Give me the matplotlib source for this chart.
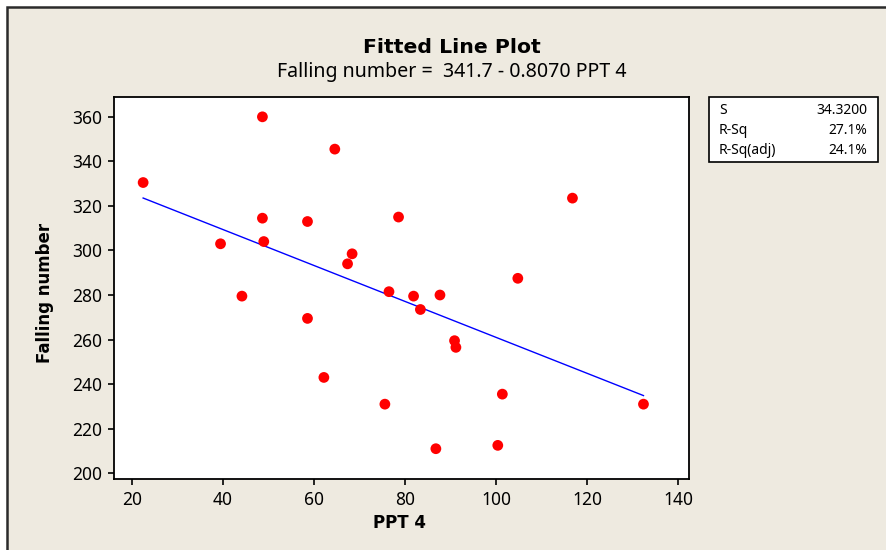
import matplotlib
matplotlib.use("Agg")
import matplotlib.pyplot as plt
from matplotlib.patches import Rectangle

plt.rcParams['font.family'] = ['Noto Sans', 'DejaVu Sans']
BOLD_FAMILY = ['DejaVu Sans']

# Observations: PPT 4 vs falling number
ppt4 = [22.5, 48.7, 64.6, 116.8, 48.7, 58.6, 78.6, 39.5, 49.0, 68.4,
        67.4, 44.2, 58.6, 62.2, 75.6, 76.5, 81.9, 83.4, 86.8, 87.7,
        90.9, 91.2, 104.8, 101.4, 100.4, 132.4]
falling_number = [330.5, 360.0, 345.5, 323.5, 314.5, 313.0, 315.0, 303.0, 304.0, 298.5,
                  294.0, 279.5, 269.5, 243.0, 231.0, 281.5, 279.5, 273.5, 211.0, 280.0,
                  259.5, 256.5, 287.5, 235.5, 212.5, 231.0]

# Regression summary
intercept = 341.7
slope = -0.8070
stat_names = ["S", "R-Sq", "R-Sq(adj)"]
stat_values = ["34.3200", "27.1%", "24.1%"]

x_ticks = [20, 40, 60, 80, 100, 120, 140]
y_ticks = [200, 220, 240, 260, 280, 300, 320, 340, 360]

W, H = 886, 550
bg = "#eeeae0"
fig = plt.figure(figsize=(W / 100, H / 100), dpi=100)
fig.patch.set_facecolor("white")

# Beige panel with dark frame
fig.patches.append(Rectangle((7 / W, -0.1), 1.2, (H - 7) / H + 0.1,
                             transform=fig.transFigure, facecolor=bg,
                             edgecolor="#2b2b2b", linewidth=1.8, zorder=-10))

ax = fig.add_axes([114 / W, (H - 479) / H, (689 - 114) / W, (479 - 97) / H])
ax.set_facecolor("white")

ax.scatter(ppt4, falling_number, s=60, color="#ff0000", edgecolors="none", zorder=3)

x_line = [min(ppt4), max(ppt4)]
y_line = [intercept + slope * v for v in x_line]
ax.plot(x_line, y_line, color="#0000ff", linewidth=1.0, zorder=2)

ax.set_xlim(16.1, 142.4)
ax.set_ylim(197.4, 368.9)
ax.set_xticks(x_ticks)
ax.set_yticks(y_ticks)
ax.tick_params(axis="both", direction="out", length=4.5, width=1.2,
               color="black", labelsize=12.5, pad=4)
for sp in ax.spines.values():
    sp.set_linewidth(1.3)
    sp.set_color("black")

ax.set_xlabel("PPT 4", fontsize=12, fontweight="bold", family=BOLD_FAMILY)
ax.set_ylabel("Falling number", fontsize=12, fontweight="bold", family=BOLD_FAMILY)
ax.xaxis.set_label_coords(((399.7 - 114) / (689 - 114)), (479 - 523) / (479 - 97), transform=ax.transAxes)
ax.xaxis.label.set_verticalalignment("center")
ax.yaxis.set_label_coords((45 - 114) / (689 - 114), (479 - 293) / (479 - 97), transform=ax.transAxes)
ax.yaxis.label.set_verticalalignment("center")

# Titles
fig.text(451.5 / W, 1 - 53.3 / H, "Fitted Line Plot", ha="center", va="baseline",
         fontsize=14.7, fontweight="bold", family=BOLD_FAMILY)
fig.text(451.5 / W, 1 - 77.3 / H,
         f"Falling number =  {intercept} - {abs(slope):.4f} PPT 4",
         ha="center", va="baseline", fontsize=14.1)

# Summary statistics box
fig.patches.append(Rectangle((709 / W, 1 - 162 / H), (878 - 709) / W, (162 - 97) / H,
                             transform=fig.transFigure, facecolor="white",
                             edgecolor="black", linewidth=1.2))
for i, (name, val) in enumerate(zip(stat_names, stat_values)):
    yy = 1 - (114 + 20 * i) / H
    fig.text(719 / W, yy, name, ha="left", va="baseline", fontsize=10)
    fig.text(867 / W, yy, val, ha="right", va="baseline", fontsize=10)

fig.savefig("out.png", dpi=100, facecolor=fig.get_facecolor())
